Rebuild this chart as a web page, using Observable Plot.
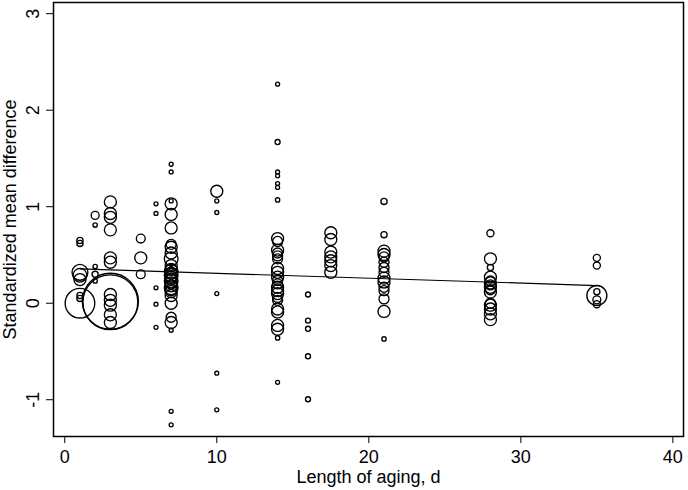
<!DOCTYPE html>
<html><head><meta charset="utf-8">
<script src="https://cdn.jsdelivr.net/npm/d3@7"></script>
<script src="https://cdn.jsdelivr.net/npm/@observablehq/plot@0.6"></script>
<style>body{margin:0;background:#fff}</style>
</head><body><div id="chart"></div>
<script>
// Length of aging (days) for each study effect
const days = [
  1,1,1,1,1,1,1,1,
  2,2,2,2,2,
  3,3,3,3,3,3,3,3,3,3,3,3,3,
  5,5,5,
  6,6,6,6,6,
  7,7,7,7,7,7,7,7,7,7,7,7,7,7,7,7,7,7,7,7,7,7,7,7,7,7,7,7,7,7,7,
  10,10,10,10,10,10,
  14,14,14,14,14,14,14,14,14,14,14,14,14,14,14,14,14,14,14,14,14,14,14,14,14,14,14,14,14,
  16,16,16,16,16,
  17.5,17.5,17.5,17.5,17.5,17.5,17.5,
  21,21,21,21,21,21,21,21,21,21,21,21,21,21,21,
  28,28,28,28,28,28,28,28,28,28,28,28,28,28,28,
  35,35,35,35,35,35
];
// Standardized mean difference
const smd = [
  0.65,0.62,0.32,0.29,0.245,0.08,0.05,0.00,
  0.91,0.81,0.38,0.30,0.23,
  1.05,0.93,0.89,0.76,0.47,0.425,0.09,0.03,-0.02,-0.12,-0.20,0.02,0.01,
  0.67,0.47,0.30,
  1.03,0.93,0.16,-0.01,-0.25,
  1.44,1.36,1.06,1.03,0.92,0.78,0.61,0.58,0.52,0.46,0.39,0.36,0.35,0.33,0.31,0.29,0.27,0.25,0.23,0.21,0.18,0.16,0.14,0.12,0.08,0.00,-0.145,-0.20,-0.28,-1.12,-1.26,
  1.16,1.06,0.94,0.10,-0.725,-1.105,
  2.27,1.67,1.36,1.32,1.24,1.20,1.07,0.67,0.64,0.55,0.52,0.49,0.46,0.36,0.32,0.27,0.235,0.20,0.165,0.13,0.10,0.06,0.03,-0.06,-0.09,-0.23,-0.27,-0.36,-0.82,
  0.09,-0.18,-0.265,-0.55,-0.995,
  0.73,0.66,0.53,0.48,0.44,0.39,0.32,
  1.055,0.71,0.54,0.505,0.48,0.425,0.37,0.32,0.26,0.22,0.165,0.13,0.045,-0.085,-0.37,
  0.725,0.46,0.37,0.27,0.23,0.21,0.19,0.165,0.14,0.115,0.00,-0.02,-0.06,-0.11,-0.17,
  0.47,0.39,0.12,0.08,0.035,-0.01
];
// Study weight (bubble area)
const weight = [
  1.2,1.2,8,6,4.6,1.2,1.2,28,
  2,0.6,0.6,1.2,0.6,
  4.6,4.6,4.6,4.6,4.6,4.6,4.6,4.6,4.6,4.6,4.6,100,96,
  2.5,4.6,2.5,
  0.5,0.5,0.5,0.5,0.5,
  0.5,0.5,0.5,4.6,4.6,4.6,3.2,4.6,4.6,6,4.6,0.5,4.6,6,4.6,6,4.6,4.6,6,4.6,4.6,6,4.6,4.6,4.6,4.6,3.2,4.6,0.5,0.5,0.5,
  4.6,0.5,0.5,0.5,0.5,0.5,
  0.5,0.8,0.5,0.5,0.5,0.5,0.6,4.6,3.2,4.6,3.2,3.2,3.2,4.6,4.6,4.6,3.2,3.2,4.6,4.6,4.6,3.2,3.2,4.6,4.6,4.6,4.6,0.6,0.5,
  0.8,0.8,0.8,0.8,0.8,
  4.6,4.6,4.6,4.6,4.6,4.6,4.6,
  1.2,1.2,4.6,4.6,3.2,3.2,3.2,3.2,4.6,4.6,3.2,3.2,3.2,4.6,0.6,
  1.6,4.6,1.2,4.6,3.2,4.6,3.2,4.6,3.2,4.6,3.2,4.6,4.6,4.6,4.6,
  1.6,1.6,1.2,12.8,2,1.6
];
// Meta-regression fitted line (end points)
const fitDays = [1, 35];
const fitSmd = [0.356, 0.183];
const xTicks = [0, 10, 20, 30, 40];
const yTicks = [-1, 0, 1, 2, 3];

const data = days.map((d, i) => ({days: d, smd: smd[i], w: weight[i]}));
const fit = fitDays.map((d, i) => ({days: d, smd: fitSmd[i]}));

const chart = Plot.plot({
  width: 688, height: 490,
  marginLeft: 53, marginRight: 5, marginTop: 2, marginBottom: 54,
  style: {fontFamily: "'Liberation Sans', Arial, sans-serif", fontSize: "18px", color: "black", background: "white"},
  x: {domain: [-0.74, 40.7]},
  y: {domain: [-1.381, 3.116]},
  r: {type: "sqrt", domain: [0, 100], range: [0, 28]},
  marks: [
    Plot.frame({stroke: "black", strokeWidth: 1.5}),
    Plot.axisX({ticks: xTicks, tickFormat: d => String(d), tickSize: 7, tickPadding: 7, label: "Length of aging, d", labelAnchor: "center", labelOffset: 46, labelArrow: "none"}),
    Plot.axisY({ticks: yTicks, tickFormat: d => String(d), tickSize: 7, tickPadding: 8, tickRotate: -90, textAnchor: "middle", lineAnchor: "bottom", label: "Standardized mean difference", labelAnchor: "center", labelOffset: 50, labelArrow: "none"}),
    Plot.dot(data, {x: "days", y: "smd", r: "w", stroke: "black", fill: "none", strokeWidth: 1.35}),
    Plot.line(fit, {x: "days", y: "smd", stroke: "black", strokeWidth: 1.2})
  ]
});
document.getElementById("chart").appendChild(chart);
</script>
</body></html>
